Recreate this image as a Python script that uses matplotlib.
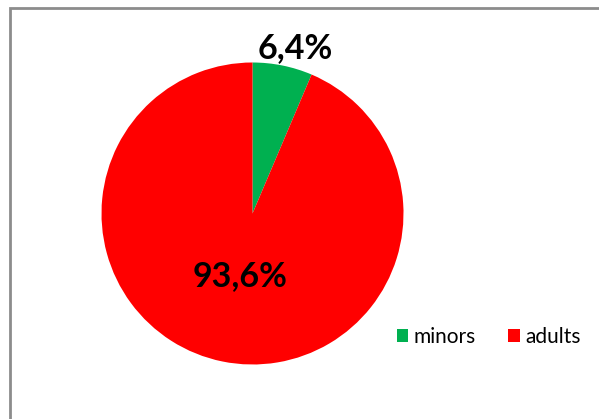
import numpy as np
import matplotlib
matplotlib.use('Agg')
import matplotlib.pyplot as plt
from matplotlib.patches import Patch, Rectangle

labels = ['minors', 'adults']
shares = [6.4, 93.6]
colors = ['#00B050', '#FF0000']
# where the percentage labels sit: radius factor and angle shift (deg)
label_radius = [1.13, 0.42]
label_shift = [-3.0, 0.5]

W, H = 599, 419
cx, cy, r = 252.5, 213.5, 151.0

plt.rcParams['font.family'] = ['Lato', 'DejaVu Sans']


def main():
    fig = plt.figure(figsize=(W / 100, H / 100), dpi=100)
    ax = fig.add_axes([0, 0, 1, 1])
    wedges, _ = ax.pie(shares, colors=colors, startangle=90, counterclock=False,
                       radius=1, center=(0, 0))
    ax.set_xlim(-cx / r, (W - cx) / r)
    ax.set_ylim((cy - H) / r, cy / r)
    ax.set_aspect('auto')
    ax.axis('off')

    for w, v, lr, sh in zip(wedges, shares, label_radius, label_shift):
        ang = np.deg2rad((w.theta1 + w.theta2) / 2 + sh)
        ax.text(lr * np.cos(ang), lr * np.sin(ang), ('%.1f%%' % v).replace('.', ','),
                ha='center', va='center', fontsize=24.5, fontweight='bold', color='black')

    handles = [Patch(facecolor=c, edgecolor='none') for c in colors]
    fig.legend(handles, labels, ncol=2, frameon=False, fontsize=15,
               loc='center left', bbox_to_anchor=(397 / W, 1 - 337 / H),
               handlelength=0.55, handleheight=0.55, handletextpad=0.25,
               columnspacing=1.55, borderaxespad=0, borderpad=0)

    fig.patches.append(Rectangle((9.5 / W, -0.1), 2, 1.1 - 8 / H, transform=fig.transFigure,
                                 fill=False, edgecolor='#8c8c8c', linewidth=2))
    fig.savefig('out.png', dpi=100)


if __name__ == '__main__':
    main()
